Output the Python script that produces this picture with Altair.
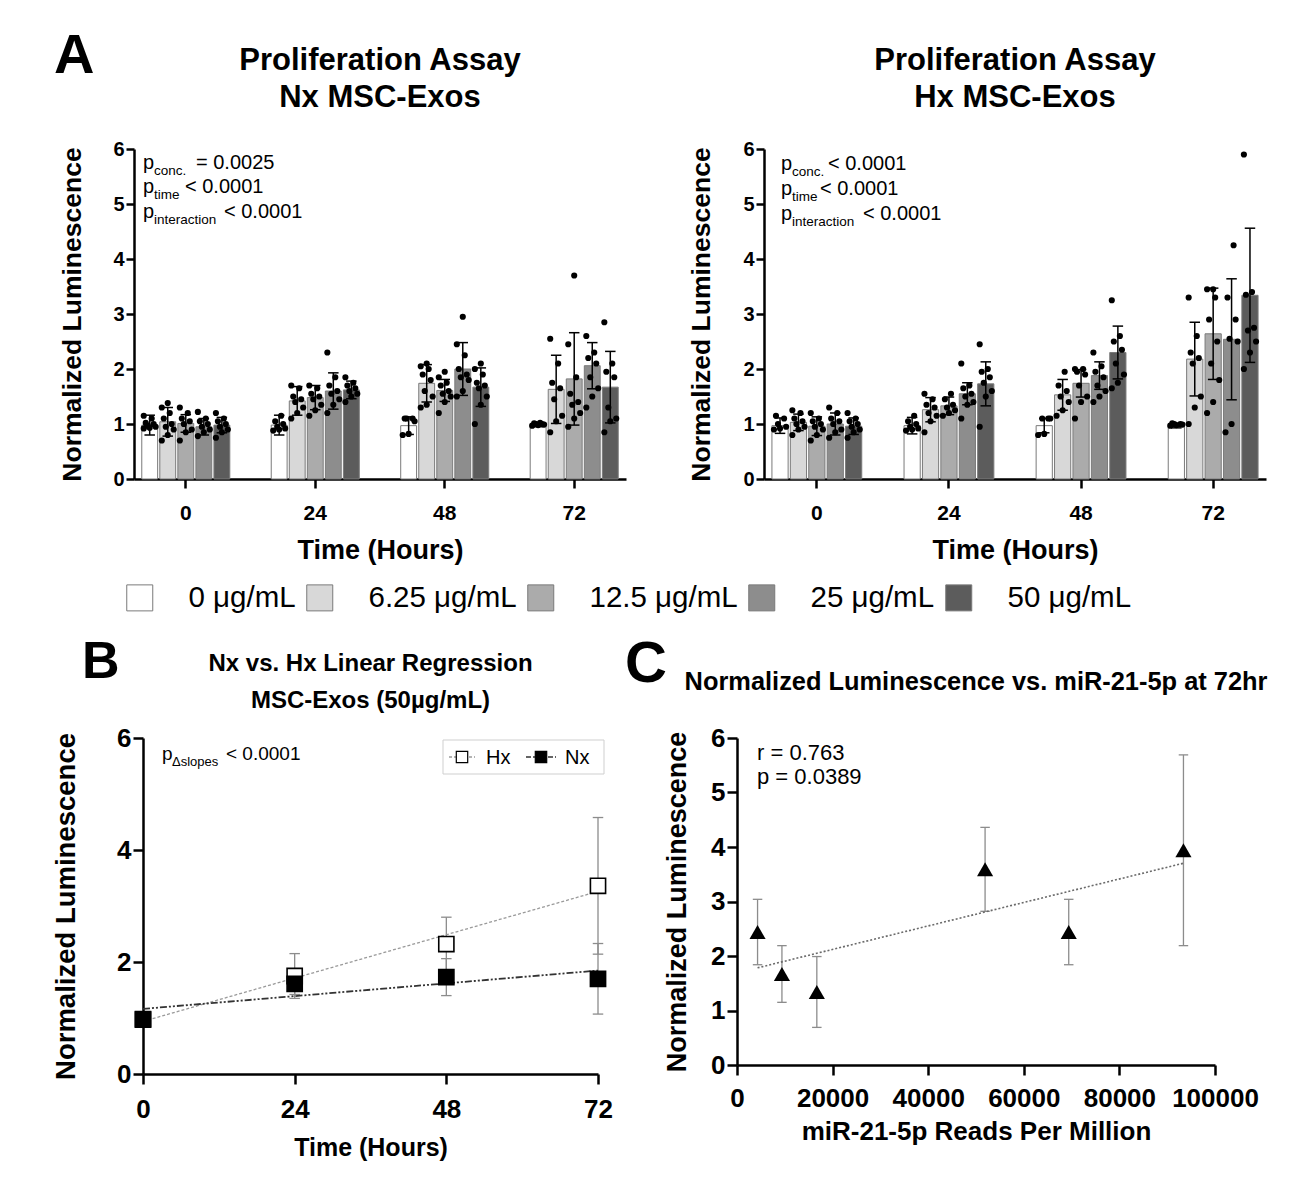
import altair as alt
import pandas as pd

FONT = "Liberation Sans"

TIMES = ["0", "24", "48", "72"]
CONCS = ["0 μg/mL", "6.25 μg/mL", "12.5 μg/mL", "25 μg/mL", "50 μg/mL"]
BAR_FILLS = ["#ffffff", "#d8d8d8", "#ababab", "#8d8d8d", "#5c5c5c"]

NX_MEAN = [
    [0.98, 1.04, 1.01, 0.95, 0.98],
    [0.98, 1.42, 1.48, 1.60, 1.62],
    [0.97, 1.74, 1.61, 2.00, 1.67],
    [0.97, 1.63, 1.82, 2.06, 1.67],
]
NX_SD = [
    [0.18, 0.26, 0.16, 0.15, 0.14],
    [0.18, 0.26, 0.22, 0.33, 0.16],
    [0.16, 0.34, 0.20, 0.48, 0.35],
    [0.02, 0.62, 0.84, 0.42, 0.65],
]
HX_MEAN = [
    [0.97, 1.03, 0.96, 1.00, 0.96],
    [0.97, 1.26, 1.33, 1.55, 1.73],
    [0.97, 1.53, 1.74, 1.88, 2.30],
    [0.96, 2.18, 2.64, 2.54, 3.34],
]
HX_SD = [
    [0.14, 0.15, 0.17, 0.20, 0.15],
    [0.15, 0.22, 0.16, 0.20, 0.40],
    [0.13, 0.28, 0.25, 0.25, 0.48],
    [0.03, 0.67, 0.83, 1.10, 1.22],
]

NX_DOTS = [
    [[0.92, 0.93, 0.95, 0.97, 1.0, 1.02, 1.1, 1.15],
     [0.7, 0.8, 0.9, 0.95, 1.0, 1.1, 1.2, 1.3, 1.38],
     [0.7, 0.85, 0.9, 1.0, 1.05, 1.1, 1.2, 1.3],
     [0.78, 0.85, 0.9, 0.95, 1.0, 1.05, 1.1, 1.22],
     [0.75, 0.85, 0.9, 0.95, 1.0, 1.05, 1.1, 1.2]],
    [[0.88, 0.9, 0.92, 0.95, 1.0, 1.05, 1.15],
     [1.1, 1.2, 1.3, 1.4, 1.45, 1.5, 1.65, 1.7],
     [1.15, 1.25, 1.35, 1.45, 1.5, 1.55, 1.65, 1.7],
     [1.2, 1.35, 1.45, 1.55, 1.6, 1.7, 1.85, 2.3],
     [1.4, 1.5, 1.55, 1.6, 1.65, 1.7, 1.75, 1.85]],
    [[0.8, 0.82, 1.05, 1.1, 1.1, 1.1],
     [1.3, 1.35, 1.5, 1.6, 1.8, 1.9, 2.0, 2.05, 2.1],
     [1.2, 1.4, 1.5, 1.55, 1.6, 1.7, 1.75, 1.85, 1.95],
     [1.5, 1.6, 1.8, 1.85, 1.9, 2.0, 2.25, 2.45, 2.95],
     [1.0, 1.35, 1.5, 1.65, 1.7, 1.75, 1.9, 2.0, 2.1]],
    [[0.97, 0.98, 0.99, 1.0, 1.0, 1.01, 1.02],
     [0.85, 1.05, 1.15, 1.45, 1.65, 1.75, 2.1, 2.55],
     [0.95, 1.1, 1.2, 1.35, 1.4, 1.55, 1.85, 2.45, 3.7],
     [1.3, 1.5, 1.65, 1.85, 2.1, 2.2, 2.3, 2.6],
     [0.85, 1.05, 1.1, 1.3, 1.85, 1.95, 2.1, 2.85]],
]
HX_DOTS = [
    [[0.9, 0.92, 0.95, 1.0, 1.1, 1.15],
     [0.8, 0.9, 0.95, 1.0, 1.05, 1.1, 1.2, 1.25],
     [0.7, 0.8, 0.9, 0.95, 1.0, 1.05, 1.1, 1.2],
     [0.75, 0.85, 0.9, 1.0, 1.05, 1.1, 1.2, 1.3],
     [0.75, 0.85, 0.9, 0.95, 1.0, 1.05, 1.1, 1.2]],
    [[0.88, 0.9, 0.92, 0.95, 1.0, 1.05, 1.15],
     [0.85, 1.05, 1.15, 1.2, 1.3, 1.35, 1.45, 1.55],
     [1.15, 1.2, 1.25, 1.3, 1.35, 1.45, 1.55],
     [1.1, 1.35, 1.4, 1.5, 1.55, 1.65, 1.7, 2.1],
     [0.95, 1.5, 1.6, 1.75, 1.85, 1.95, 2.0, 2.45]],
    [[0.8, 0.82, 1.1, 1.1, 1.1],
     [1.15, 1.25, 1.4, 1.5, 1.6, 1.7, 1.95],
     [1.1, 1.4, 1.5, 1.7, 1.9, 1.95, 2.0, 2.0],
     [1.4, 1.5, 1.6, 1.7, 1.85, 1.95, 2.05, 2.3],
     [1.65, 1.75, 1.9, 2.1, 2.35, 2.5, 2.6, 3.25]],
    [[0.97, 0.98, 0.99, 1.0, 1.0, 1.01],
     [1.0, 1.3, 1.5, 2.1, 2.2, 2.3, 2.6, 3.3],
     [1.2, 1.4, 1.8, 2.1, 2.5, 2.9, 3.3, 3.45, 3.45],
     [0.85, 1.0, 2.5, 2.55, 2.9, 3.3, 4.25],
     [2.0, 2.3, 2.5, 2.7, 2.75, 3.35, 3.4, 5.9]],
]

B_SERIES = ["Hx", "Nx"]
B_TIMES = [0, 24, 48, 72]
B_HX = [0.97, 1.75, 2.32, 3.36]
B_HX_SD = [0.12, 0.40, 0.48, 1.22]
B_NX = [0.98, 1.61, 1.73, 1.70]
B_NX_SD = [0.10, 0.19, 0.33, 0.63]

C_READS = [4300, 9400, 16700, 51900, 69400, 93400]
C_LUM = [2.44, 1.67, 1.34, 3.59, 2.44, 3.94]
C_SD = [0.60, 0.52, 0.65, 0.77, 0.60, 1.75]

ONE = pd.DataFrame({"d": [0]})
AX = dict(domainColor="black", domainWidth=2.5, tickColor="black", tickWidth=2.5,
          labelColor="black", titleColor="black", grid=False, labelOverlap=False)
CAP = "M-1,0H1"
OFF_DOMAIN = [-0.44, 4.44]
HX_DASH = [3, 2]
NX_DASH = [7, 2, 2, 2, 2, 2]


def txt(s, x, y, size, weight="normal", align="left", opacity=1.0):
    return alt.Chart(ONE).mark_text(
        text=s, font=FONT, fontSize=size, fontWeight=weight, align=align,
        baseline="alphabetic", color="black", opacity=opacity
    ).encode(x=alt.value(x), y=alt.value(y))


def guard(x, y):
    # invisible anchor that fixes the panel's layout bounds
    return txt(".", x, y, 1, opacity=0)


def bar_frame(mean, sd):
    rows = []
    for ti, t in enumerate(TIMES):
        for ci, c in enumerate(CONCS):
            m, s = mean[ti][ci], sd[ti][ci]
            rows.append({"time": t, "conc": c, "ci": ci, "mean": m, "lo": m - s, "hi": m + s})
    return pd.DataFrame(rows)


def dot_frame(dots):
    rows = []
    for ti, t in enumerate(TIMES):
        for ci, c in enumerate(CONCS):
            for k, v in enumerate(dots[ti][ci]):
                rows.append({"time": t, "conc": c, "ci": ci, "k": k, "value": v})
    return pd.DataFrame(rows)


LEGEND_A = alt.Legend(
    orient="none", legendX=-9, legendY=434, direction="horizontal", title=None,
    symbolType="square", symbolSize=676, symbolStrokeColor="#7a7a7a", symbolStrokeWidth=1,
    symbolOpacity=1, labelFont=FONT, labelFontSize=29.5, labelColor="black",
    labelOffset=34, columnPadding=8, labelLimit=0,
)

AH = 330


def a_panel(mean, sd, dots, line2, ann, width, show_letter, ytx):
    bdf = bar_frame(mean, sd)
    ddf = dot_frame(dots)
    xenc = alt.X(
        "time:N", sort=TIMES, title="Time (Hours)",
        scale=alt.Scale(domain=TIMES, paddingInner=0.32, paddingOuter=0.06),
        axis=alt.Axis(labelAngle=0, labelFont=FONT, labelFontSize=21, labelFontWeight="bold",
                      labelBaseline="alphabetic", labelPadding=31, tickSize=9,
                      titleFont=FONT, titleFontSize=27, titleFontWeight="bold",
                      titleBaseline="alphabetic", titleX=width / 2, titleY=79,
                      titleAlign="center", **AX),
    )

    def yenc(field):
        return alt.Y(
            field, title="Normalized Luminescence",
            scale=alt.Scale(domain=[0, 6], nice=False),
            axis=alt.Axis(values=[0, 1, 2, 3, 4, 5, 6], tickSize=8, labelPadding=2,
                          labelFont=FONT, labelFontSize=20, labelFontWeight="bold",
                          titleFont=FONT, titleFontSize=26.5, titleFontWeight="bold",
                          titleAngle=270, titleBaseline="alphabetic", titleX=ytx,
                          titleY=AH / 2, titleAlign="center", **AX),
        )

    xo_band = alt.XOffset("conc:N", sort=CONCS,
                          scale=alt.Scale(domain=CONCS, paddingInner=0.12, paddingOuter=0))
    xo_mid = alt.XOffset("ci:Q", scale=alt.Scale(domain=OFF_DOMAIN))
    bars = alt.Chart(bdf).mark_bar(stroke="#7a7a7a", strokeWidth=1, opacity=1).encode(
        x=xenc, xOffset=xo_band, y=yenc("mean:Q"),
        color=alt.Color("conc:N", sort=CONCS,
                        scale=alt.Scale(domain=CONCS, range=BAR_FILLS), legend=LEGEND_A),
    )
    err = alt.Chart(bdf).mark_rule(color="black", strokeWidth=1.5).encode(
        x=xenc, xOffset=xo_mid, y=yenc("lo:Q"), y2="hi:Q")
    caps = alt.Chart(bdf).transform_fold(["lo", "hi"], as_=["end", "v"]).mark_point(
        shape=CAP, size=110, color="black", strokeWidth=1.5, filled=False, opacity=1
    ).encode(x=xenc, xOffset=xo_mid, y=yenc("v:Q"))
    pts = alt.Chart(ddf).transform_calculate(
        jx="datum.ci + ((datum.k * 3) % 7 - 3) * 0.11"
    ).mark_circle(size=38, color="black", opacity=1).encode(
        x=xenc,
        xOffset=alt.XOffset("jx:Q", scale=alt.Scale(domain=OFF_DOMAIN)),
        y=yenc("value:Q"),
    )
    texts = [
        txt("Proliferation Assay", width / 2, -79, 31, "bold", align="center"),
        txt(line2, width / 2, -42, 31, "bold", align="center"),
        guard(-95, -134),
    ]
    if show_letter:
        texts.append(txt("A", -80, -76, 56, "bold"))
    for (sub, main, px, subx, mainx, base) in ann:
        texts.append(txt("p", px, base, 20))
        texts.append(txt(sub, subx, base + 6, 13.5))
        texts.append(txt(main, mainx, base, 20))
    return alt.layer(bars, err, caps, pts, *texts).resolve_scale(
        xOffset="independent").properties(width=width, height=AH)


a_left = a_panel(
    NX_MEAN, NX_SD, NX_DOTS, "Nx MSC-Exos",
    [("conc.", "= 0.0025", 9, 20, 62, 20),
     ("time", "< 0.0001", 9, 20, 51, 44),
     ("interaction", "< 0.0001", 9, 20, 90, 69)],
    492, True, -54)
a_right = a_panel(
    HX_MEAN, HX_SD, HX_DOTS, "Hx MSC-Exos",
    [("conc.", "< 0.0001", 17, 28, 64, 21),
     ("time", "< 0.0001", 17, 28, 56, 46),
     ("interaction", "< 0.0001", 17, 28, 99, 71)],
    502, False, -55)

# ---------------- Panel B ----------------
brows = []
for s, means, sds in (("Hx", B_HX, B_HX_SD), ("Nx", B_NX, B_NX_SD)):
    for t, m, d in zip(B_TIMES, means, sds):
        brows.append({"series": s, "t": t, "mean": m, "lo": m - d, "hi": m + d})
bdf = pd.DataFrame(brows)
BX0 = 9          # plot starts 9px right of the group origin
BW, BH = 464, 336
BMID = BX0 + (BW - BX0) / 2

bx = alt.X("t:Q", title="Time (Hours)",
           scale=alt.Scale(domain=[0, 72], nice=False, range=[BX0, BW]),
           axis=alt.Axis(values=B_TIMES, tickSize=10, labelFont=FONT, labelFontSize=26,
                         labelFontWeight="bold", labelBaseline="alphabetic", labelPadding=33,
                         labelFlush=False, titleFont=FONT, titleFontSize=25,
                         titleFontWeight="bold", titleBaseline="alphabetic", titleX=BMID,
                         titleY=81, titleAlign="center", **AX))


def by(field):
    return alt.Y(field, title="Normalized Luminescence",
                 scale=alt.Scale(domain=[0, 6], nice=False),
                 axis=alt.Axis(values=[0, 2, 4, 6], tickSize=10, labelPadding=2, offset=-BX0,
                               labelFont=FONT, labelFontSize=26, labelFontWeight="bold",
                               titleFont=FONT, titleFontSize=27.5, titleFontWeight="bold",
                               titleAngle=270, titleBaseline="alphabetic", titleX=-69,
                               titleY=BH / 2, titleAlign="center", **AX))


b_lines = alt.Chart(bdf).transform_regression(
    "t", "mean", groupby=["series"]
).mark_line(opacity=1).encode(
    x=bx, y=by("mean:Q"),
    stroke=alt.Stroke("series:N", scale=alt.Scale(domain=B_SERIES, range=["#9a9a9a", "#333333"]),
                      legend=None),
    strokeDash=alt.StrokeDash("series:N", scale=alt.Scale(domain=B_SERIES,
                              range=[HX_DASH, NX_DASH]), legend=None),
    strokeWidth=alt.StrokeWidth("series:N", scale=alt.Scale(domain=B_SERIES, range=[1.3, 1.8]),
                                legend=None),
)
b_err = alt.Chart(bdf).mark_rule(color="#8c8c8c", strokeWidth=1.3).encode(
    x=bx, y=by("lo:Q"), y2="hi:Q")
b_caps = alt.Chart(bdf).transform_fold(["lo", "hi"], as_=["end", "v"]).mark_point(
    shape=CAP, size=110, color="#8c8c8c", strokeWidth=1.3, filled=False, opacity=1
).encode(x=bx, y=by("v:Q"))
b_pts = alt.Chart(bdf).mark_point(shape="square", size=230, filled=True, stroke="black",
                                  strokeWidth=1.6, opacity=1).encode(
    x=bx, y=by("mean:Q"),
    fill=alt.Fill("series:N", scale=alt.Scale(domain=B_SERIES, range=["white", "black"]),
                  legend=None),
)

# legend box for panel B (drawn as decoration in pixel space)
LB = dict(x0=309, x1=470, y0=2, y1=36, cy=19)
b_leg = [
    alt.Chart(ONE).mark_rect(fill="white", stroke="#cfcfcf", strokeWidth=1).encode(
        x=alt.value(LB["x0"]), x2=alt.value(LB["x1"]), y=alt.value(LB["y0"]),
        y2=alt.value(LB["y1"])),
    alt.Chart(ONE).mark_rule(color="#9a9a9a", strokeWidth=1.3, strokeDash=HX_DASH).encode(
        x=alt.value(315), x2=alt.value(341), y=alt.value(LB["cy"])),
    alt.Chart(ONE).mark_rule(color="#333333", strokeWidth=1.6, strokeDash=[5, 2, 2, 2]).encode(
        x=alt.value(392), x2=alt.value(422), y=alt.value(LB["cy"])),
    alt.Chart(ONE).mark_point(shape="square", size=130, filled=True, fill="white", stroke="black",
                              strokeWidth=1.2, opacity=1).encode(
        x=alt.value(328), y=alt.value(LB["cy"])),
    alt.Chart(ONE).mark_point(shape="square", size=130, filled=True, fill="black", stroke="black",
                              strokeWidth=1.2, opacity=1).encode(
        x=alt.value(407), y=alt.value(LB["cy"])),
    txt("Hx", 352, LB["cy"] + 7, 20),
    txt("Nx", 431, LB["cy"] + 7, 20),
]
b_texts = [
    txt("Nx vs. Hx Linear Regression", BMID, -67, 24, "bold", align="center"),
    txt("MSC-Exos (50µg/mL)", BMID, -30, 24, "bold", align="center"),
    txt("B", -52, -60, 52, "bold"),
    txt("p", BX0 + 19, 22, 19),
    txt("Δslopes", BX0 + 29, 28, 13),
    txt("< 0.0001", BX0 + 83, 22, 19),
    guard(-95, -120),
]
panel_b = alt.layer(b_err, b_caps, b_lines, b_pts, *b_leg, *b_texts).properties(
    width=BW, height=BH)

# ---------------- Panel C ----------------
cdf = pd.DataFrame({"reads": C_READS, "lum": C_LUM,
                    "lo": [m - s for m, s in zip(C_LUM, C_SD)],
                    "hi": [m + s for m, s in zip(C_LUM, C_SD)]})
CW, CH = 478, 327
cx = alt.X("reads:Q", title="miR-21-5p Reads Per Million",
           scale=alt.Scale(domain=[0, 100000], nice=False),
           axis=alt.Axis(values=[0, 20000, 40000, 60000, 80000, 100000], format="d",
                         tickSize=10, labelFont=FONT, labelFontSize=26, labelFontWeight="bold",
                         labelBaseline="alphabetic", labelPadding=31, labelFlush=False,
                         titleFont=FONT, titleFontSize=26, titleFontWeight="bold",
                         titleBaseline="alphabetic", titleX=CW / 2, titleY=74,
                         titleAlign="center", **AX))


def cy(field):
    return alt.Y(field, title="Normalized Luminescence",
                 scale=alt.Scale(domain=[0, 6], nice=False),
                 axis=alt.Axis(values=[0, 1, 2, 3, 4, 5, 6], tickSize=10, labelPadding=2,
                               labelFont=FONT, labelFontSize=26, labelFontWeight="bold",
                               titleFont=FONT, titleFontSize=27, titleFontWeight="bold",
                               titleAngle=270, titleBaseline="alphabetic", titleX=-52,
                               titleY=CH / 2, titleAlign="center", **AX))


c_line = alt.Chart(cdf).transform_regression("reads", "lum").mark_line(
    strokeDash=[2, 2], color="#6a6a6a", strokeWidth=1.6).encode(x=cx, y=cy("lum:Q"))
c_err = alt.Chart(cdf).mark_rule(color="#8c8c8c", strokeWidth=1.3).encode(
    x=cx, y=cy("lo:Q"), y2="hi:Q")
c_caps = alt.Chart(cdf).transform_fold(["lo", "hi"], as_=["end", "v"]).mark_point(
    shape=CAP, size=90, color="#8c8c8c", strokeWidth=1.3, filled=False, opacity=1
).encode(x=cx, y=cy("v:Q"))
c_pts = alt.Chart(cdf).mark_point(shape="triangle-up", size=260, filled=True, color="black",
                                  opacity=1).encode(x=cx, y=cy("lum:Q"))
c_texts = [
    txt("Normalized Luminescence vs. miR-21-5p at 72hr", CW / 2, -48, 25.4, "bold",
        align="center"),
    txt("C", -112, -56, 58, "bold"),
    txt("r = 0.763", 20, 22, 22),
    txt("p = 0.0389", 20, 46, 22),
    guard(-120, -120),
]
panel_c = alt.layer(c_err, c_caps, c_line, c_pts, *c_texts).properties(width=CW, height=CH)

row1 = alt.hconcat(a_left, a_right, spacing=43)
row2 = alt.hconcat(panel_b, panel_c, spacing=4)
chart = alt.concat(row1, row2, columns=1, align="none", spacing=54).properties(
    padding={"left": 31, "top": 6, "right": 5, "bottom": 5},
    background="white",
).configure_view(stroke=None)

chart.save("out.html", embed_options={"renderer": "svg", "actions": False})
